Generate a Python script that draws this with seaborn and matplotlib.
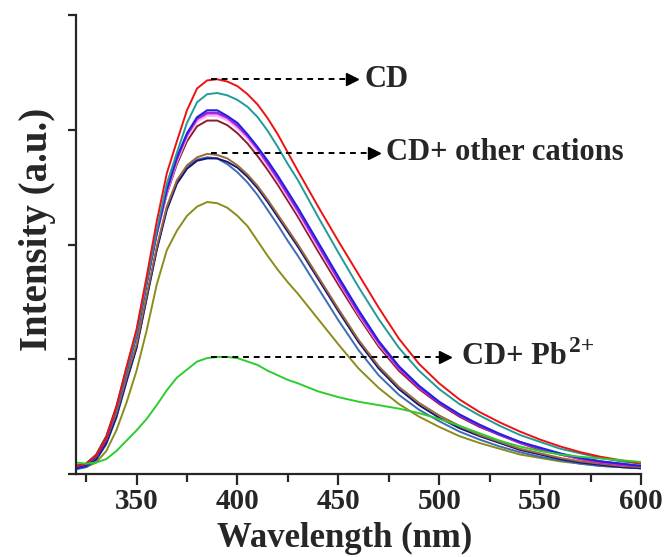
import numpy as np
import pandas as pd
import matplotlib
matplotlib.use("Agg")
import matplotlib.pyplot as plt
import seaborn as sns
from matplotlib.ticker import MultipleLocator, NullFormatter

# ---------------- data ----------------
wavelength = [320, 325, 330, 335, 340, 345, 350, 355, 360, 365, 370, 375, 380, 385,
              390, 395, 400, 405, 410, 415, 420, 425, 430, 440, 450, 460, 470, 480,
              490, 500, 510, 520, 530, 540, 550, 560, 570, 580, 590, 600]

cd_red = [0.07, 0.09, 0.16, 0.31, 0.58, 0.93, 1.26, 1.72, 2.20, 2.62, 2.90, 3.17, 3.36, 3.43,
          3.44, 3.42, 3.38, 3.31, 3.22, 3.10, 2.96, 2.80, 2.64, 2.33, 2.03, 1.74, 1.45, 1.18,
          0.96, 0.79, 0.65, 0.54, 0.45, 0.37, 0.30, 0.24, 0.19, 0.15, 0.12, 0.09]
teal = [0.07, 0.09, 0.16, 0.31, 0.56, 0.90, 1.22, 1.67, 2.12, 2.53, 2.80, 3.06, 3.24, 3.31,
        3.32, 3.30, 3.26, 3.20, 3.11, 2.99, 2.85, 2.70, 2.56, 2.24, 1.93, 1.63, 1.35, 1.10,
        0.90, 0.74, 0.61, 0.51, 0.42, 0.34, 0.28, 0.22, 0.18, 0.14, 0.11, 0.09]
blue = [0.05, 0.08, 0.15, 0.30, 0.56, 0.89, 1.21, 1.66, 2.10, 2.48, 2.76, 2.97, 3.11, 3.17,
        3.17, 3.12, 3.06, 2.96, 2.85, 2.73, 2.60, 2.46, 2.32, 2.02, 1.72, 1.43, 1.16, 0.94,
        0.77, 0.63, 0.52, 0.43, 0.35, 0.28, 0.23, 0.18, 0.14, 0.11, 0.09, 0.07]
purple = [0.06, 0.08, 0.15, 0.30, 0.56, 0.89, 1.21, 1.66, 2.10, 2.47, 2.75, 2.96, 3.10, 3.15,
          3.15, 3.11, 3.04, 2.95, 2.84, 2.71, 2.58, 2.44, 2.30, 2.00, 1.70, 1.41, 1.15, 0.93,
          0.76, 0.62, 0.51, 0.42, 0.34, 0.28, 0.22, 0.17, 0.14, 0.11, 0.09, 0.07]
magenta = [0.06, 0.08, 0.15, 0.30, 0.56, 0.89, 1.21, 1.66, 2.09, 2.46, 2.74, 2.95, 3.09, 3.14,
           3.14, 3.10, 3.03, 2.94, 2.83, 2.70, 2.57, 2.43, 2.29, 1.99, 1.69, 1.40, 1.14, 0.92,
           0.75, 0.62, 0.51, 0.42, 0.34, 0.27, 0.22, 0.17, 0.13, 0.10, 0.08, 0.07]
pink = [0.06, 0.08, 0.15, 0.30, 0.56, 0.89, 1.21, 1.65, 2.08, 2.45, 2.72, 2.93, 3.07, 3.12,
        3.12, 3.08, 3.01, 2.92, 2.81, 2.68, 2.55, 2.41, 2.27, 1.97, 1.68, 1.39, 1.13, 0.92,
        0.76, 0.63, 0.52, 0.43, 0.35, 0.28, 0.22, 0.17, 0.14, 0.11, 0.09, 0.07]
wine = [0.07, 0.09, 0.17, 0.33, 0.59, 0.92, 1.24, 1.68, 2.09, 2.44, 2.70, 2.90, 3.03, 3.08,
        3.08, 3.04, 2.97, 2.88, 2.77, 2.65, 2.52, 2.38, 2.24, 1.94, 1.65, 1.37, 1.11, 0.90,
        0.74, 0.61, 0.50, 0.41, 0.34, 0.27, 0.21, 0.17, 0.13, 0.10, 0.08, 0.07]
brown = [0.07, 0.09, 0.16, 0.30, 0.53, 0.84, 1.13, 1.56, 1.98, 2.33, 2.56, 2.69, 2.76, 2.79,
         2.78, 2.75, 2.69, 2.61, 2.51, 2.39, 2.26, 2.13, 2.00, 1.72, 1.44, 1.17, 0.94, 0.76,
         0.62, 0.51, 0.42, 0.34, 0.28, 0.22, 0.18, 0.14, 0.11, 0.09, 0.07, 0.06]
navy = [0.05, 0.07, 0.13, 0.27, 0.50, 0.81, 1.10, 1.53, 1.95, 2.30, 2.53, 2.66, 2.73, 2.75,
        2.75, 2.72, 2.67, 2.59, 2.49, 2.37, 2.24, 2.11, 1.98, 1.70, 1.42, 1.15, 0.92, 0.74,
        0.60, 0.49, 0.40, 0.33, 0.27, 0.21, 0.17, 0.13, 0.10, 0.08, 0.06, 0.05]
steel = [0.04, 0.06, 0.12, 0.26, 0.49, 0.80, 1.10, 1.53, 1.96, 2.32, 2.55, 2.68, 2.74, 2.76,
         2.75, 2.70, 2.63, 2.54, 2.43, 2.30, 2.17, 2.03, 1.90, 1.62, 1.34, 1.08, 0.86, 0.69,
         0.56, 0.46, 0.37, 0.30, 0.24, 0.19, 0.15, 0.12, 0.09, 0.07, 0.06, 0.05]
olive = [0.05, 0.06, 0.10, 0.20, 0.38, 0.62, 0.90, 1.25, 1.65, 1.95, 2.12, 2.25, 2.33, 2.37,
         2.36, 2.32, 2.25, 2.16, 2.03, 1.90, 1.78, 1.67, 1.57, 1.35, 1.13, 0.92, 0.75, 0.61,
         0.50, 0.41, 0.33, 0.27, 0.22, 0.17, 0.14, 0.11, 0.09, 0.07, 0.06, 0.05]
pb_green = [0.10, 0.09, 0.10, 0.13, 0.20, 0.29, 0.38, 0.48, 0.60, 0.73, 0.84, 0.91, 0.98, 1.01,
            1.02, 1.02, 1.01, 0.98, 0.95, 0.90, 0.86, 0.82, 0.79, 0.72, 0.67, 0.63, 0.60, 0.57,
            0.53, 0.48, 0.42, 0.355, 0.29, 0.24, 0.20, 0.17, 0.15, 0.135, 0.12, 0.105]

series = {
    "olive": olive, "steel": steel, "navy": navy, "brown": brown, "wine": wine,
    "pink": pink, "magenta": magenta, "purple": purple, "blue": blue,
    "teal": teal, "CD": cd_red, "Pb": pb_green,
}
colors = {
    "olive": "#8c8c1c", "steel": "#3f6db3", "navy": "#14147a", "brown": "#9a6a3a",
    "wine": "#8a1f2a", "pink": "#f2b8f2", "magenta": "#e020e0", "purple": "#8a2be2",
    "blue": "#2020e0", "teal": "#229a9a", "CD": "#ee1111", "Pb": "#2ecc2e",
}

# annotations: dashed arrow from start to arrow-head centre, then label
ann_labels = ["CD", "CD+ other cations", "CD+ Pb"]
ann_supers = ["", "", "2+"]
ann_start_x = [387, 387, 387]
ann_head_x = [457, 467.5, 503]
ann_text_x = [463, 473.5, 511.5]
ann_y = [3.44, 2.80, 1.02]

# ---------------- plotting ----------------
rows = []
for name, vals in series.items():
    for w, v in zip(wavelength, vals):
        rows.append((name, w, v))
df = pd.DataFrame(rows, columns=["sample", "wavelength", "intensity"])

sns.set_style("ticks")
plt.rcParams["font.family"] = ["Liberation Serif", "DejaVu Serif"]
plt.rcParams["font.weight"] = "bold"

fig = plt.figure(figsize=(6.67, 5.57), dpi=100)
ax = fig.add_axes([76 / 667, 1 - 474 / 557, 565 / 667, 459 / 557])

sns.lineplot(data=df, x="wavelength", y="intensity", hue="sample",
             hue_order=list(series.keys()), palette=colors, legend=False,
             linewidth=1.4, ax=ax, sort=True)

ax.set_xlim(320, 600)
ax.set_ylim(0, 4)
ax.xaxis.set_major_locator(MultipleLocator(50))
ax.xaxis.set_minor_locator(MultipleLocator(25))
ax.yaxis.set_major_locator(MultipleLocator(1))
ax.yaxis.set_major_formatter(NullFormatter())
ax.tick_params(axis="x", which="major", length=8, width=1.6, labelsize=21, pad=2)
ax.tick_params(axis="x", which="minor", length=6, width=1.6)
ax.tick_params(axis="y", which="major", length=6, width=1.6)
for lab in ax.get_xticklabels():
    lab.set_fontweight("bold")
for s in ["top", "right"]:
    ax.spines[s].set_visible(False)
for s in ["left", "bottom"]:
    ax.spines[s].set_linewidth(1.6)

ax.set_xlabel("Wavelength (nm)", fontsize=25, fontweight="bold")
ax.set_ylabel("Intensity (a.u.)", fontsize=28, fontweight="bold")
ax.xaxis.set_label_coords(0.476, -0.104)
ax.yaxis.set_label_coords(-0.035, 0.533)

for lab, sup, x0, x1, xt, y in zip(ann_labels, ann_supers, ann_start_x, ann_head_x,
                                   ann_text_x, ann_y):
    ax.plot([x0, x1], [y, y], color="black", linestyle=(0, (3, 2.5)), linewidth=1.4)
    ax.plot([x1], [y], marker=">", color="black", markersize=9, linestyle="none")
    t = ax.text(xt, y, lab, fontsize=22, fontweight="bold", ha="left", va="center")
    if sup:
        ax.annotate(sup, xy=(1.0, 0.5), xycoords=t, xytext=(1, 0),
                    textcoords="offset points", fontsize=17, fontweight="bold",
                    ha="left", va="bottom")

fig.savefig("out.png", dpi=100)
